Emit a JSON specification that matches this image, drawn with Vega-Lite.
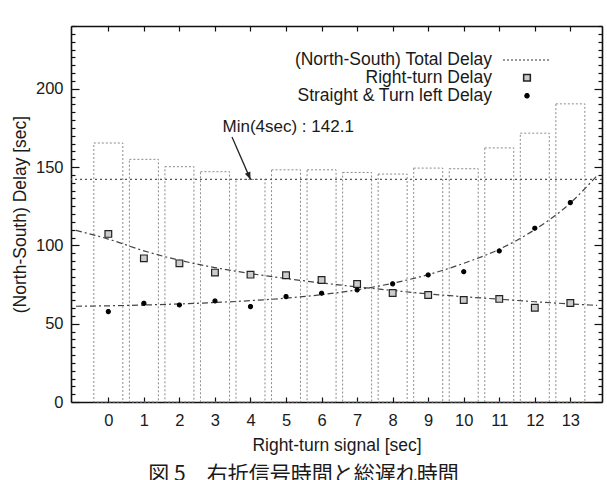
{
  "$schema": "https://vega.github.io/schema/vega-lite/v6.json",
  "width": 531,
  "height": 376,
  "autosize": {"type": "none"},
  "padding": {"left": 71, "top": 26, "right": 5, "bottom": 78},
  "background": "white",
  "config": {
    "view": {"stroke": null},
    "axis": {
      "grid": false,
      "labelFont": "Liberation Sans",
      "titleFont": "Liberation Sans",
      "labelFontSize": 16.5,
      "titleFontSize": 17,
      "titleFontWeight": "normal",
      "labelColor": "#1a1a1a",
      "titleColor": "#1a1a1a",
      "domainColor": "#111111",
      "domainWidth": 1.6,
      "tickColor": "#111111",
      "tickWidth": 1.2,
      "labelOverlap": false,
      "labelFlush": false
    }
  },
  "title": {
    "text": "図 5　右折信号時間と総遅れ時間",
    "orient": "bottom",
    "anchor": "middle",
    "frame": "group",
    "font": "Noto Sans CJK JP",
    "fontSize": 21,
    "fontWeight": "normal",
    "color": "#1a1a1a",
    "offset": 10,
    "dx": -33
  },
  "datasets": {
    "main": [
      {"t": 0, "total": 165.3, "Right-turn Delay": 107.3, "Straight & Turn left Delay": 57.7},
      {"t": 1, "total": 154.9, "Right-turn Delay": 91.7, "Straight & Turn left Delay": 63.0},
      {"t": 2, "total": 150.2, "Right-turn Delay": 88.5, "Straight & Turn left Delay": 61.9},
      {"t": 3, "total": 147.0, "Right-turn Delay": 82.6, "Straight & Turn left Delay": 64.5},
      {"t": 4, "total": 142.1, "Right-turn Delay": 81.3, "Straight & Turn left Delay": 60.9},
      {"t": 5, "total": 148.2, "Right-turn Delay": 80.9, "Straight & Turn left Delay": 67.3},
      {"t": 6, "total": 148.2, "Right-turn Delay": 77.9, "Straight & Turn left Delay": 69.4},
      {"t": 7, "total": 146.5, "Right-turn Delay": 75.3, "Straight & Turn left Delay": 71.5},
      {"t": 8, "total": 145.5, "Right-turn Delay": 69.6, "Straight & Turn left Delay": 75.4},
      {"t": 9, "total": 149.3, "Right-turn Delay": 68.3, "Straight & Turn left Delay": 81.1},
      {"t": 10, "total": 148.9, "Right-turn Delay": 65.1, "Straight & Turn left Delay": 83.2},
      {"t": 11, "total": 162.2, "Right-turn Delay": 65.8, "Straight & Turn left Delay": 96.4},
      {"t": 12, "total": 171.6, "Right-turn Delay": 60.2, "Straight & Turn left Delay": 110.9},
      {"t": 13, "total": 190.3, "Right-turn Delay": 63.2, "Straight & Turn left Delay": 127.3}
    ],
    "fit": [
      {"series": "right", "t": -0.91, "v": 109.5},
      {"series": "right", "t": 0, "v": 104.0},
      {"series": "right", "t": 1, "v": 96.5},
      {"series": "right", "t": 2, "v": 90.5},
      {"series": "right", "t": 3, "v": 85.8},
      {"series": "right", "t": 4, "v": 82.0},
      {"series": "right", "t": 5, "v": 78.8},
      {"series": "right", "t": 6, "v": 76.0},
      {"series": "right", "t": 7, "v": 73.5},
      {"series": "right", "t": 8, "v": 71.2},
      {"series": "right", "t": 9, "v": 69.0},
      {"series": "right", "t": 10, "v": 67.2},
      {"series": "right", "t": 11, "v": 65.6},
      {"series": "right", "t": 12, "v": 64.0},
      {"series": "right", "t": 13, "v": 62.6},
      {"series": "right", "t": 13.75, "v": 61.7},
      {"series": "straight", "t": -0.91, "v": 61.1},
      {"series": "straight", "t": 0, "v": 61.4},
      {"series": "straight", "t": 1, "v": 61.9},
      {"series": "straight", "t": 2, "v": 62.6},
      {"series": "straight", "t": 3, "v": 63.5},
      {"series": "straight", "t": 4, "v": 64.7},
      {"series": "straight", "t": 5, "v": 66.3},
      {"series": "straight", "t": 6, "v": 68.5},
      {"series": "straight", "t": 7, "v": 71.6},
      {"series": "straight", "t": 8, "v": 75.8},
      {"series": "straight", "t": 9, "v": 81.3},
      {"series": "straight", "t": 10, "v": 88.5},
      {"series": "straight", "t": 11, "v": 97.5},
      {"series": "straight", "t": 12, "v": 110.0},
      {"series": "straight", "t": 13, "v": 127.0},
      {"series": "straight", "t": 13.75, "v": 144.5}
    ],
    "note": [
      {"t": 4, "v": 142.1, "label": "Min(4sec) : 142.1", "t_from": 3.48, "v_from": 169.1}
    ],
    "minline": [{"min": 142.1}]
  },
  "resolve": {"axis": {"x": "independent", "y": "independent"}},
  "layer": [
    {
      "data": {"name": "main"},
      "mark": {"type": "bar", "fill": "transparent", "stroke": "#8a8a8a", "strokeDash": [2, 2], "strokeWidth": 1, "size": 29},
      "encoding": {
        "x": {
          "field": "t", "type": "quantitative",
          "scale": {"domain": [-0.91, 13.75], "nice": false, "zero": false},
          "axis": {
            "orient": "bottom",
            "values": [0, 1, 2, 3, 4, 5, 6, 7, 8, 9, 10, 11, 12, 13],
            "tickSize": -5,
            "labelPadding": 15,
            "title": "Right-turn signal [sec]",
            "titleFontSize": 17.5,
            "titlePadding": 8
          }
        },
        "y": {
          "field": "total", "type": "quantitative",
          "scale": {"domain": [0, 240], "nice": false},
          "axis": {
            "orient": "left",
            "values": [0, 5, 10, 15, 20, 25, 30, 35, 40, 45, 50, 55, 60, 65, 70, 75, 80, 85, 90, 95, 100, 105, 110, 115, 120, 125, 130, 135, 140, 145, 150, 155, 160, 165, 170, 175, 180, 185, 190, 195, 200, 205, 210, 215, 220, 225, 230, 235, 240],
            "labelExpr": "datum.value % 50 === 0 ? datum.label : ''",
            "tickSize": {"condition": {"test": "datum.value % 50 === 0", "value": -8}, "value": -4},
            "labelPadding": 16,
            "title": "(North-South) Delay [sec]",
            "titleFontSize": 17.5,
            "titlePadding": 6
          }
        }
      }
    },
    {
      "data": {"name": "main"},
      "mark": {"type": "point", "opacity": 0},
      "encoding": {
        "x": {
          "field": "t", "type": "quantitative",
          "axis": {
            "orient": "top",
            "values": [0, 1, 2, 3, 4, 5, 6, 7, 8, 9, 10, 11, 12, 13],
            "tickSize": -5,
            "labels": false,
            "title": null
          }
        },
        "y": {
          "field": "total", "type": "quantitative",
          "axis": {
            "orient": "right",
            "values": [0, 5, 10, 15, 20, 25, 30, 35, 40, 45, 50, 55, 60, 65, 70, 75, 80, 85, 90, 95, 100, 105, 110, 115, 120, 125, 130, 135, 140, 145, 150, 155, 160, 165, 170, 175, 180, 185, 190, 195, 200, 205, 210, 215, 220, 225, 230, 235, 240],
            "tickSize": {"condition": {"test": "datum.value % 50 === 0", "value": -8}, "value": -4},
            "labels": false,
            "title": null
          }
        }
      }
    },
    {
      "data": {"name": "minline"},
      "mark": {"type": "rule", "stroke": "#555555", "strokeDash": [2, 3], "strokeWidth": 1.3},
      "encoding": {
        "y": {"field": "min", "type": "quantitative", "axis": null}
      }
    },
    {
      "data": {"name": "fit"},
      "mark": {"type": "line", "stroke": "#444444", "strokeWidth": 1.2, "strokeDash": [6, 3, 2, 3], "interpolate": "monotone", "clip": true},
      "encoding": {
        "x": {"field": "t", "type": "quantitative", "axis": null},
        "y": {"field": "v", "type": "quantitative", "axis": null},
        "detail": {"field": "series"}
      }
    },
    {
      "data": {"name": "main"},
      "transform": [{"fold": ["Right-turn Delay", "Straight & Turn left Delay"], "as": ["key", "value"]}],
      "mark": {"type": "point", "filled": true, "strokeWidth": 1.2, "opacity": 1},
      "encoding": {
        "x": {"field": "t", "type": "quantitative", "axis": null},
        "y": {"field": "value", "type": "quantitative", "axis": null},
        "shape": {
          "field": "key", "type": "nominal",
          "scale": {"domain": ["(North-South) Total Delay", "Right-turn Delay", "Straight & Turn left Delay"], "range": ["stroke", "square", "circle"]},
          "legend": {
            "orient": "none",
            "legendX": 431,
            "legendY": 9,
            "title": null,
            "padding": 0,
            "rowPadding": -1.5,
            "labelFont": "Liberation Sans",
            "labelFontSize": 17.5,
            "labelColor": "#1a1a1a",
            "labelLimit": 400,
            "labelAlign": "right",
            "labelOffset": -60,
            "symbolOpacity": 1
          }
        },
        "fill": {
          "field": "key", "type": "nominal",
          "scale": {"domain": ["(North-South) Total Delay", "Right-turn Delay", "Straight & Turn left Delay"], "range": ["transparent", "#cccccc", "#000000"]}
        },
        "stroke": {
          "field": "key", "type": "nominal",
          "scale": {"domain": ["(North-South) Total Delay", "Right-turn Delay", "Straight & Turn left Delay"], "range": ["#777777", "#222222", "#000000"]}
        },
        "strokeDash": {
          "field": "key", "type": "nominal",
          "scale": {"domain": ["(North-South) Total Delay", "Right-turn Delay", "Straight & Turn left Delay"], "range": [[2, 2], [1, 0], [1, 0]]}
        },
        "size": {
          "field": "key", "type": "nominal",
          "scale": {"type": "ordinal", "domain": ["(North-South) Total Delay", "Right-turn Delay", "Straight & Turn left Delay"], "range": [2304, 45, 16]}
        }
      }
    },
    {
      "data": {"name": "note"},
      "mark": {"type": "rule", "stroke": "#222222", "strokeWidth": 1.3},
      "encoding": {
        "x": {"field": "t_from", "type": "quantitative", "axis": null},
        "y": {"field": "v_from", "type": "quantitative", "axis": null},
        "x2": {"field": "t"},
        "y2": {"field": "v"}
      }
    },
    {
      "data": {"name": "note"},
      "mark": {"type": "point", "shape": "M0,0L-0.4,-1L0.4,-1Z", "size": 220, "angle": 337, "filled": true, "fill": "#222222", "opacity": 1},
      "encoding": {
        "x": {"field": "t", "type": "quantitative", "axis": null},
        "y": {"field": "v", "type": "quantitative", "axis": null}
      }
    },
    {
      "data": {"name": "note"},
      "mark": {"type": "text", "align": "left", "baseline": "alphabetic", "dx": -28, "dy": -47, "font": "Liberation Sans", "fontSize": 17, "fill": "#1a1a1a"},
      "encoding": {
        "x": {"field": "t", "type": "quantitative", "axis": null},
        "y": {"field": "v", "type": "quantitative", "axis": null},
        "text": {"field": "label"}
      }
    }
  ]
}
